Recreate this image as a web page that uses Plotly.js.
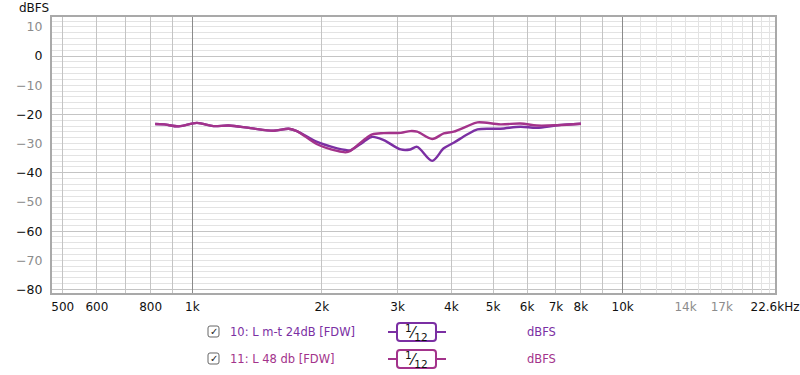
<!DOCTYPE html>
<html>
<head>
<meta charset="utf-8">
<script src="https://cdn.plot.ly/plotly-3.0.1.min.js"></script>
<style>html,body{margin:0;padding:0;background:#fff;}#chart{width:800px;height:375px;}</style>
</head>
<body>
<div id="chart"></div>
<script>
// ---- data ----
const freqHz = [820, 860, 930, 1025, 1120, 1215, 1365, 1545, 1675, 1750, 1950, 2170, 2270, 2330, 2500, 2620, 2785, 3050, 3210, 3330, 3610, 3840, 4050, 4360, 4600, 5200, 5790, 6320, 7050, 8000];
const series10 = [-23.3, -23.4, -24.1, -22.9, -24.0, -23.8, -24.7, -25.6, -24.9, -25.7, -29.4, -31.6, -32.2, -32.3, -29.4, -27.7, -28.8, -32.0, -32.0, -31.1, -35.9, -31.6, -29.7, -26.8, -25.1, -24.9, -24.2, -24.6, -23.7, -23.2];
const series11 = [-23.3, -23.4, -24.1, -22.9, -24.0, -23.8, -24.7, -25.6, -24.9, -25.7, -30.2, -32.5, -33.0, -32.5, -28.8, -26.8, -26.4, -26.3, -25.7, -25.9, -28.4, -26.5, -25.9, -24.0, -22.7, -23.4, -23.1, -23.8, -23.7, -23.2];
const seriesNames = ["10: L m-t 24dB [FDW]", "11: L 48 db [FDW]"];
const unitLabel = "dBFS";
const smoothingLabel = "<sup>1</sup>⁄<sub>12</sub>";

const xTickVals = [500, 600, 800, 1000, 2000, 3000, 4000, 5000, 6000, 7000, 8000, 10000, 14000, 17000, 22600];
const xTickText = ["500", "600", "800", "1k", "2k", "3k", "4k", "5k", "6k", "7k", "8k", "10k", "14k", "17k", "22.6kHz"];
const xTickMuted = [false, false, false, false, false, false, false, false, false, false, false, false, true, true, false];
const yTickVals = [10, 0, -10, -20, -30, -40, -50, -60, -70, -80];
const yTickText = ["10", "0", "−10", "−20", "−30", "−40", "−50", "−60", "−70", "−80"];
const yTickMuted = [true, false, true, false, true, false, true, false, true, false];

const gridLight = [11000, 12000, 13000, 14000, 15000, 16000, 17000, 18000, 19000, 21000, 22000];
const gridMedium = [500, 600, 700, 800, 900, 2000, 3000, 4000, 5000, 6000, 7000, 8000, 9000, 20000];
const gridDark = [1000, 10000];
const yGridMajor = [0, -20, -40, -60, -80];

// ---- styles ----
const COL10 = '#7b2fa3', COL11 = '#a3338b';
const FONT = 'DejaVu Sans, sans-serif';
const W = 800, H = 375, L = 52, R = 25, T = 17, B = 82;
const pw = W - L - R, ph = H - T - B;
const px = x => (x - L) / pw;
const py = y => (H - B - y) / ph;
const xRange = [Math.log10(472), Math.log10(22600)];
const yRange = [-81.2, 13.4];

const color = (t, muted) => muted ? '<span style="color:#8c8c8c">' + t + '</span>' : t;

const traces = [
  {x: freqHz, y: series10, type: 'scatter', mode: 'lines', name: seriesNames[0],
   line: {color: COL10, width: 2.4, shape: 'spline', smoothing: 0.9}, hoverinfo: 'skip'},
  {x: freqHz, y: series11, type: 'scatter', mode: 'lines', name: seriesNames[1],
   line: {color: COL11, width: 2.4, shape: 'spline', smoothing: 0.9}, hoverinfo: 'skip'},
  {x: [], y: [], xaxis: 'x2', yaxis: 'y', showlegend: false},
  {x: [], y: [], xaxis: 'x3', yaxis: 'y', showlegend: false},
  {x: [], y: [], xaxis: 'x4', yaxis: 'y', showlegend: false},
  {x: [], y: [], xaxis: 'x', yaxis: 'y2', showlegend: false}
];

const overlayX = (vals, gc) => ({
  type: 'log', range: xRange, overlaying: 'x', anchor: 'y', tickmode: 'array', tickvals: vals,
  showticklabels: false, ticks: '', showgrid: true, gridcolor: gc, gridwidth: 1, showline: false, zeroline: false, fixedrange: true
});

const shapes = [];
const annotations = [];

annotations.push({xref: 'paper', yref: 'paper', x: px(34), y: py(8), xanchor: 'center', yanchor: 'middle',
  text: unitLabel, showarrow: false, font: {family: FONT, size: 12, color: '#111'}});

function roundRect(x0, y0, x1, y1, rr) {
  const X = v => px(v).toFixed(5), Y = v => py(v).toFixed(5);
  return 'M' + X(x0 + rr) + ',' + Y(y0) + ' L' + X(x1 - rr) + ',' + Y(y0) +
    ' Q' + X(x1) + ',' + Y(y0) + ' ' + X(x1) + ',' + Y(y0 + rr) +
    ' L' + X(x1) + ',' + Y(y1 - rr) +
    ' Q' + X(x1) + ',' + Y(y1) + ' ' + X(x1 - rr) + ',' + Y(y1) +
    ' L' + X(x0 + rr) + ',' + Y(y1) +
    ' Q' + X(x0) + ',' + Y(y1) + ' ' + X(x0) + ',' + Y(y1 - rr) +
    ' L' + X(x0) + ',' + Y(y0 + rr) +
    ' Q' + X(x0) + ',' + Y(y0) + ' ' + X(x0 + rr) + ',' + Y(y0) + ' Z';
}

const rows = [{y: 332, c: COL10, name: seriesNames[0]}, {y: 359, c: COL11, name: seriesNames[1]}];
rows.forEach(r => {
  shapes.push({type: 'path', xref: 'paper', yref: 'paper', layer: 'above',
    path: roundRect(208, r.y - 6, 219, r.y + 5, 2), line: {color: '#666', width: 1}, fillcolor: '#fff'});
  annotations.push({xref: 'paper', yref: 'paper', x: px(213.5), y: py(r.y - 0.5), xanchor: 'center', yanchor: 'middle',
    text: '✓', showarrow: false, font: {family: FONT, size: 10, color: '#222'}});
  annotations.push({xref: 'paper', yref: 'paper', x: px(228), y: py(r.y), xanchor: 'left', yanchor: 'middle',
    text: r.name, showarrow: false, font: {family: FONT, size: 11.5, color: r.c}});
  shapes.push({type: 'line', xref: 'paper', yref: 'paper', x0: px(388), x1: px(446), y0: py(r.y), y1: py(r.y),
    line: {color: r.c, width: 2}, layer: 'above'});
  shapes.push({type: 'path', xref: 'paper', yref: 'paper', layer: 'above',
    path: roundRect(397, r.y - 9, 436, r.y + 9, 3), line: {color: r.c, width: 2}, fillcolor: '#fff'});
  annotations.push({xref: 'paper', yref: 'paper', x: px(416.5), y: py(r.y + 0.5), xanchor: 'center', yanchor: 'middle',
    text: smoothingLabel, showarrow: false, font: {family: FONT, size: 15, color: '#111'}});
  annotations.push({xref: 'paper', yref: 'paper', x: px(541), y: py(r.y), xanchor: 'center', yanchor: 'middle',
    text: unitLabel, showarrow: false, font: {family: FONT, size: 11.5, color: r.c}});
});

const layout = {
  width: W, height: H,
  margin: {l: L, r: R, t: T, b: B, pad: 0},
  paper_bgcolor: '#fff', plot_bgcolor: '#fff',
  showlegend: false,
  font: {family: FONT, size: 12, color: '#111'},
  xaxis: {
    type: 'log', range: xRange, tickmode: 'array', tickvals: xTickVals,
    ticktext: xTickText.map((t, i) => color(t, xTickMuted[i])),
    showgrid: false, zeroline: false, ticks: 'outside', ticklen: 0, tickcolor: 'rgba(0,0,0,0)',
    showline: true, mirror: true, linecolor: '#a9a9a9', linewidth: 2,
    tickfont: {family: FONT, size: 12, color: '#111'}, fixedrange: true, ticklabelstandoff: 2
  },
  xaxis2: overlayX(gridLight, '#e3e3e3'),
  xaxis3: overlayX(gridMedium, '#c4c4c4'),
  xaxis4: overlayX(gridDark, '#8a8a8a'),
  yaxis: {
    range: yRange, tickmode: 'array', tickvals: yTickVals,
    ticktext: yTickText.map((t, i) => color(t, yTickMuted[i])),
    showgrid: true, gridcolor: '#e3e3e3', gridwidth: 1,
    minor: {dtick: 2, showgrid: true, gridcolor: '#e3e3e3', gridwidth: 1, ticks: ''},
    zeroline: false, ticks: 'outside', ticklen: 0, tickcolor: 'rgba(0,0,0,0)',
    showline: true, mirror: true, linecolor: '#a9a9a9', linewidth: 2,
    tickfont: {family: FONT, size: 12.5, color: '#111'}, fixedrange: true, ticklabelstandoff: 5
  },
  yaxis2: {
    range: yRange, overlaying: 'y', anchor: 'x', tickmode: 'array', tickvals: yGridMajor,
    showticklabels: false, ticks: '', showgrid: true, gridcolor: '#c4c4c4', gridwidth: 1,
    showline: false, zeroline: false, fixedrange: true
  },
  shapes: shapes,
  annotations: annotations
};

Plotly.newPlot('chart', traces, layout, {staticPlot: true, displayModeBar: false});
</script>
</body>
</html>
